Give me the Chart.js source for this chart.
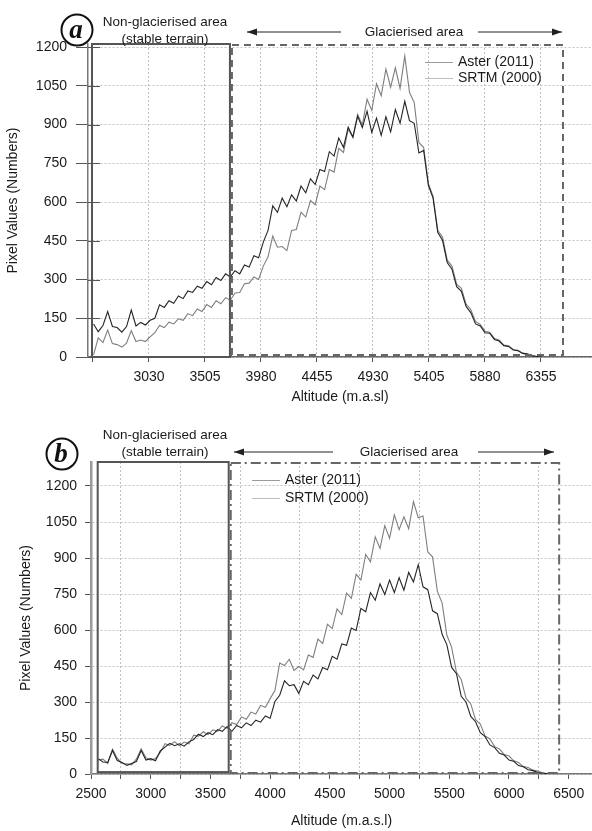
<!DOCTYPE html>
<html>
<head>
<meta charset="utf-8">
<script src="https://cdn.jsdelivr.net/npm/chart.js@4.4.1/dist/chart.umd.min.js"></script>
<style>
  html, body { margin: 0; padding: 0; background: #fff; }
  .panel { position: relative; width: 592px; }
  #boxA { height: 410px; }
  #boxB { height: 421px; }
</style>
</head>
<body>
<div class="panel" id="boxA"><canvas id="chartA"></canvas></div>
<div class="panel" id="boxB"><canvas id="chartB"></canvas></div>
<script>
// altitude bins (m a.s.l.), shared by both panels
const altitude = [2560,2600,2640,2680,2720,2760,2800,2840,2880,2920,
  2960,3000,3040,3080,3120,3160,3200,3240,3280,3320,
  3360,3400,3440,3480,3520,3560,3600,3640,3680,3720,
  3760,3800,3840,3880,3920,3960,4000,4040,4080,4120,
  4160,4200,4240,4280,4320,4360,4400,4440,4480,4520,
  4560,4600,4640,4680,4720,4760,4800,4840,4880,4920,
  4960,5000,5040,5080,5120,5160,5200,5240,5280,5320,
  5360,5400,5440,5480,5520,5560,5600,5640,5680,5720,
  5760,5800,5840,5880,5920,5960,6000,6040,6080,6120,
  6160,6200,6240,6280,6320,6360];

// panel (a)
const asterA = [128,98,122,176,118,114,96,118,182,120,
  134,124,142,150,202,192,218,208,236,226,
  256,250,274,266,292,280,308,296,322,310,
  334,322,356,348,392,384,445,490,585,560,
  615,582,628,604,662,636,690,668,726,718,
  795,778,848,812,890,852,932,888,952,870,
  925,858,930,872,958,905,990,915,905,790,
  800,665,615,482,452,366,340,272,254,196,
  172,128,120,94,92,68,62,44,41,27,
  24,14,11,5,2,0];
const srtmA = [8,74,56,104,52,48,38,54,102,60,
  66,60,78,94,122,114,135,128,148,142,
  168,160,186,176,203,192,218,206,230,220,
  248,250,284,286,310,300,352,388,468,425,
  428,412,490,494,560,542,606,590,662,648,
  726,716,808,792,882,850,940,898,998,955,
  1058,1012,1115,1045,1120,1040,1165,1025,985,830,
  812,672,622,490,465,375,352,282,266,205,
  184,138,126,100,96,72,66,46,43,29,
  26,15,12,6,2,0];

// panel (b)
const asterB = [64,50,48,98,56,48,36,44,52,98,
  58,64,55,96,112,128,118,126,116,134,
  144,166,156,172,164,185,178,198,178,202,
  192,213,202,224,216,242,232,302,328,388,
  368,372,336,386,372,412,396,444,434,490,
  478,542,536,608,598,690,676,756,724,792,
  748,808,756,818,766,840,800,872,780,768,
  680,668,582,538,444,418,324,300,240,218,
  172,156,121,110,86,79,58,53,35,30,
  18,14,6,3,1,0];
const srtmB = [58,62,44,104,66,44,43,38,62,105,
  68,58,64,90,126,119,135,118,133,126,
  162,158,176,164,184,178,200,190,214,206,
  238,228,258,250,286,278,314,348,462,452,
  478,432,448,434,496,486,562,544,624,606,
  688,664,754,732,832,808,915,884,988,940,
  1035,982,1080,1018,1072,1022,1135,1068,1075,925,
  905,762,712,578,528,424,394,316,292,226,
  208,158,146,114,104,81,75,55,48,31,
  27,16,12,5,2,0];

const yTicks = [0, 150, 300, 450, 600, 750, 900, 1050, 1200];
const xTicksA = [2555, 3030, 3505, 3980, 4455, 4930, 5405, 5880, 6355];
const xTicksB = [2500, 2750, 3000, 3250, 3500, 3750, 4000, 4250, 4500, 4750,
  5000, 5250, 5500, 5750, 6000, 6250, 6500];
const seriesNames = ['Aster (2011)', 'SRTM (2000)'];

const FAMILY = '"Liberation Sans", Arial, sans-serif';
const TICKFONT = { family: FAMILY, size: 14 };
const TITLEFONT = { family: FAMILY, size: 14 };
const TXT = '#1a1a1a';

function toXY(vals) {
  return altitude.map((a, i) => ({ x: a, y: vals[i] }));
}

function arrow(ctx, x1, x2, y) {
  ctx.beginPath();
  ctx.moveTo(x1, y);
  ctx.lineTo(x2, y);
  ctx.stroke();
  const d = x2 > x1 ? 1 : -1;
  ctx.beginPath();
  ctx.moveTo(x2, y);
  ctx.lineTo(x2 - d * 10, y - 3.5);
  ctx.lineTo(x2 - d * 10, y + 3.5);
  ctx.closePath();
  ctx.fill();
}

// boxes, arrows, labels and the in-plot legend
function overlay(o) {
  return {
    id: 'overlay',
    afterDraw(chart) {
      const ctx = chart.ctx;
      const xs = chart.scales.x, ys = chart.scales.y;
      const top = chart.chartArea.top;
      ctx.save();

      if (o.innerTicks) {
        ctx.strokeStyle = '#555';
        ctx.lineWidth = 1;
        yTicks.forEach(v => {
          const y = Math.round(ys.getPixelForValue(v)) + 0.5;
          ctx.beginPath();
          ctx.moveTo(chart.chartArea.left, y);
          ctx.lineTo(chart.chartArea.left + 12, y);
          ctx.stroke();
        });
      }

      // non-glacierised box
      ctx.strokeStyle = '#555';
      ctx.lineWidth = 2;
      ctx.setLineDash([]);
      let x1 = xs.getPixelForValue(o.solid[0]), x2 = xs.getPixelForValue(o.solid[1]);
      let yb = ys.getPixelForValue(o.solid[2]);
      ctx.strokeRect(x1, top, x2 - x1, yb - top);

      // glacierised box
      ctx.strokeStyle = '#666';
      ctx.setLineDash(o.dash);
      x1 = xs.getPixelForValue(o.glac[0]);
      x2 = xs.getPixelForValue(o.glac[1]);
      yb = ys.getPixelForValue(o.glac[2]);
      ctx.strokeRect(x1, top + 1, x2 - x1, yb - top - 1);
      ctx.setLineDash([]);

      // panel letter
      ctx.lineWidth = 2;
      ctx.strokeStyle = '#111';
      ctx.beginPath();
      ctx.arc(o.circle[0], o.circle[1], 15.5, 0, Math.PI * 2);
      ctx.stroke();
      ctx.fillStyle = '#111';
      ctx.font = 'italic bold 27px "Liberation Serif", "Times New Roman", serif';
      ctx.textAlign = 'center';
      ctx.textBaseline = 'middle';
      ctx.fillText(o.letter, o.circle[0] - 1, o.circle[1] + 1);

      // area labels
      ctx.font = '13.5px ' + FAMILY;
      ctx.fillStyle = TXT;
      ctx.fillText('Non-glacierised area', o.nonText[0], o.nonText[1]);
      ctx.fillText('(stable terrain)', o.nonText[0], o.nonText[2]);
      ctx.fillText('Glacierised area', o.glacText[0], o.glacText[1]);

      ctx.strokeStyle = '#222';
      ctx.fillStyle = '#222';
      ctx.lineWidth = 1;
      o.arrows.forEach(a => arrow(ctx, a[0], a[1], o.glacText[1]));

      // legend
      const lc = ['#9a9a9a', '#bdbdbd'];
      ctx.textAlign = 'left';
      ctx.font = '14px ' + FAMILY;
      seriesNames.forEach((name, i) => {
        const y = o.legend[1] + i * o.legend[2];
        ctx.strokeStyle = lc[i];
        ctx.beginPath();
        ctx.moveTo(o.legend[0], y + 0.5);
        ctx.lineTo(o.legend[0] + 28, y + 0.5);
        ctx.stroke();
        ctx.fillStyle = TXT;
        ctx.fillText(name, o.legend[0] + 33, y);
      });
      ctx.restore();
    }
  };
}

function datasets(aster, srtm) {
  return [{
    label: seriesNames[0],
    data: toXY(aster),
    borderColor: 'rgba(25,25,25,0.95)',
    borderWidth: 1.1,
    pointRadius: 0
  }, {
    label: seriesNames[1],
    data: toXY(srtm),
    borderColor: 'rgba(120,120,120,0.95)',
    borderWidth: 1.1,
    pointRadius: 0
  }];
}

function commonOptions(topPad) {
  return {
    animation: false,
    responsive: true,
    maintainAspectRatio: false,
    layout: { padding: { top: topPad, left: 0, right: 0, bottom: 0 } },
    plugins: { legend: { display: false }, tooltip: { enabled: false } },
    elements: { line: { tension: 0 } }
  };
}

// ---- panel a ----
const optsA = commonOptions(44);
optsA.scales = {
  x: {
    type: 'linear', min: 2513, max: 6788,
    afterBuildTicks: s => { s.ticks = xTicksA.map(v => ({ value: v })); },
    afterFit: s => { s.height = 53; },
    ticks: {
      font: TICKFONT, color: TXT, padding: 7, maxRotation: 0, autoSkip: false,
      callback: v => (v === 2555 ? '' : String(v))
    },
    grid: {
      color: c => (c.tick && c.tick.value === 2555 ? 'rgba(0,0,0,0)' : '#c2c2c2'),
      tickColor: '#555', tickLength: 5, tickBorderDash: []
    },
    border: { color: '#666', width: 1.5, dash: [2, 2] },
    title: { display: true, text: 'Altitude (m.a.sl)', font: TITLEFONT, color: TXT, padding: { top: 0, bottom: 4 } }
  },
  y: {
    type: 'linear', min: 0, max: 1212,
    afterBuildTicks: s => { s.ticks = yTicks.map(v => ({ value: v })); },
    afterFit: s => { s.width = 88; },
    ticks: { font: TICKFONT, color: TXT, padding: 9, callback: v => String(v) },
    grid: { color: '#c2c2c2', tickColor: '#555', tickLength: 12, tickBorderDash: [] },
    border: { color: '#777', width: 1.5, dash: [2, 2] },
    title: { display: true, text: 'Pixel Values (Numbers)', font: TITLEFONT, color: TXT, padding: { top: 5, bottom: 0 } }
  }
};

new Chart(document.getElementById('chartA'), {
  type: 'line',
  data: { datasets: datasets(asterA, srtmA) },
  options: optsA,
  plugins: [overlay({
    letter: 'a', circle: [77, 30],
    solid: [2547, 3717, 0],
    glac: [3734, 6542, 8], dash: [7, 5],
    nonText: [165, 22, 39],
    glacText: [414, 32],
    arrows: [[341, 247], [478, 562]],
    legend: [425, 62, 16],
    innerTicks: true
  })]
});

// ---- panel b ----
const optsB = commonOptions(52);
optsB.scales = {
  x: {
    type: 'linear', min: 2500, max: 6695,
    afterBuildTicks: s => { s.ticks = xTicksB.map(v => ({ value: v })); },
    afterFit: s => { s.height = 57; },
    ticks: {
      font: TICKFONT, color: TXT, padding: 7, maxRotation: 0, autoSkip: false,
      callback: v => (v % 500 === 0 ? String(v) : '')
    },
    grid: {
      color: c => (c.tick && c.tick.value % 500 === 250 ? '#c2c2c2' : 'rgba(0,0,0,0)'),
      tickColor: '#555', tickLength: 5, tickBorderDash: []
    },
    border: { color: '#777', width: 1.5, dash: [2, 2] },
    title: { display: true, text: 'Altitude (m.a.s.l)', font: TITLEFONT, color: TXT, padding: { top: 0, bottom: 1 } }
  },
  y: {
    type: 'linear', min: 0, max: 1300,
    afterBuildTicks: s => { s.ticks = yTicks.map(v => ({ value: v })); },
    afterFit: s => { s.width = 91; },
    ticks: { font: TICKFONT, color: TXT, padding: 8, callback: v => String(v) },
    grid: { color: '#c2c2c2', tickColor: '#555', tickLength: 6, tickBorderDash: [] },
    border: { color: '#9a9a9a', width: 2.5, dash: [2, 2] },
    title: { display: true, text: 'Pixel Values (Numbers)', font: TITLEFONT, color: TXT, padding: { top: 18, bottom: 0 } }
  }
};

new Chart(document.getElementById('chartB'), {
  type: 'line',
  data: { datasets: datasets(asterB, srtmB) },
  options: optsB,
  plugins: [overlay({
    letter: 'b', circle: [62, 44],
    solid: [2556, 3653, 8],
    glac: [3670, 6420, 4], dash: [10, 4, 2, 4],
    nonText: [165, 25, 42],
    glacText: [409, 42],
    arrows: [[333, 234], [478, 554]],
    legend: [252, 70, 18],
    innerTicks: false
  })]
});
</script>
</body>
</html>
